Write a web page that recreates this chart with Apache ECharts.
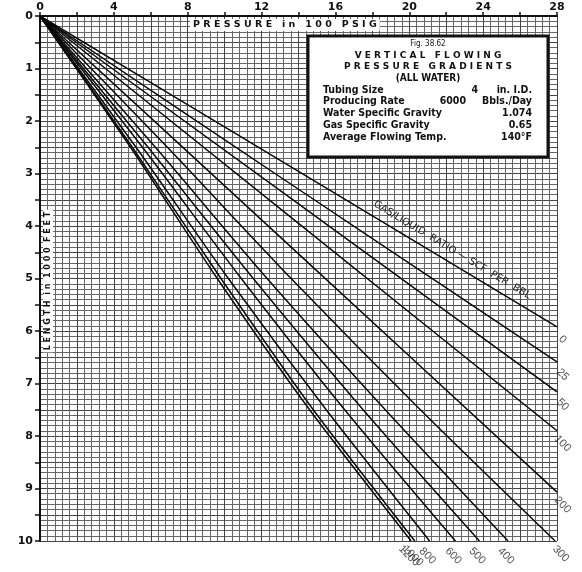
<!DOCTYPE html>
<html><head><meta charset="utf-8">
<script src="https://cdn.jsdelivr.net/npm/echarts@6/dist/echarts.min.js"></script>
<style>html,body{margin:0;padding:0;background:#fff}#c{width:582px;height:572px}</style>
</head><body><div id="c"></div>
<script>
// Pressure (100 psig) vs depth (1000 ft) points
const glrLabels = ['0','25','50','100','200','300','400','500','600','800','1000','1200'];
const glr0    = [[0,0],[14,2.96],[28,5.92]];
const glr25   = [[0,0],[14,3.30],[28,6.59]];
const glr50   = [[0,0],[14,3.58],[28,7.16]];
const glr100  = [[0,0],[14,3.95],[28,7.90]];
const glr200  = [[0,0],[14,4.53],[28,9.07]];
const glr300  = [[0,0],[6.9,2.5],[13.6,5],[20.6,7.5],[27.9,10]];
const glr400  = [[0,0],[6.25,2.5],[12.3,5],[18.7,7.5],[25.35,10]];
const glr500  = [[0,0],[5.85,2.5],[11.55,5],[17.5,7.5],[23.8,10]];
const glr600  = [[0,0],[5.55,2.5],[10.9,5],[16.5,7.5],[22.5,10]];
const glr800  = [[0,0],[5.2,2.5],[10.2,5],[15.5,7.5],[21.1,10]];
const glr1000 = [[0,0],[5.0,2.5],[9.8,5],[14.8,7.5],[20.3,10]];
const glr1200 = [[0,0],[4.9,2.5],[9.6,5],[14.6,7.5],[20.1,10]];
const curves = [glr0,glr25,glr50,glr100,glr200,glr300,glr400,glr500,glr600,glr800,glr1000,glr1200];
const xMax = 28, yMax = 10;

const chart = echarts.init(document.getElementById('c'), null, {renderer:'canvas'});
const lineSeries = curves.map((c,i)=>({
  type:'line', name:glrLabels[i], data:c, symbol:'none', smooth:0.25,
  lineStyle:{color:'#0a0a0a', width:1.5}, silent:true, z:5
}));
const endData = curves.map((c,i)=>{
  const e = c[c.length-1];
  const atRight = e[0] >= 27.8;
  return {value:e, name:glrLabels[i], label:{offset: atRight ? [13,5] : [9,12]}};
});
const F = 'DejaVu Sans';
const FC = 'DejaVu Sans Condensed';
const txt = (x,y,text,font,align,extra)=>Object.assign({type:'text', x:x, y:y, z:20,
  style:{text:text, font:font, fill:'#111', align:align||'left', verticalAlign:'middle'}}, extra||{});
chart.setOption({
  animation:false,
  backgroundColor:'#fff',
  grid:{left:40, right:25, top:16, bottom:31},
  xAxis:{type:'value', position:'top', min:0, max:xMax, interval:2,
    axisLine:{show:true, lineStyle:{color:'#111', width:2}},
    axisTick:{show:true, length:4, lineStyle:{color:'#111', width:1.5}},
    axisLabel:{formatter:v=> (Math.abs(v/4-Math.round(v/4))<1e-6 ? String(v) : ''), fontFamily:F, fontWeight:'bold', fontSize:11, color:'#111', margin:3},
    splitLine:{show:true, lineStyle:{color:'#444', width:1}},
    minorTick:{show:false, splitNumber:5},
    minorSplitLine:{show:true, lineStyle:{color:'#666', width:1}}
  },
  yAxis:{type:'value', inverse:true, min:0, max:yMax, interval:0.5,
    axisLine:{show:true, lineStyle:{color:'#111', width:2}},
    axisTick:{show:true, length:5, lineStyle:{color:'#111', width:1.5}},
    axisLabel:{formatter:v=> (Math.abs(v-Math.round(v))<1e-6 ? String(Math.round(v)) : ''), fontFamily:F, fontWeight:'bold', fontSize:11, color:'#111', margin:7},
    splitLine:{show:true, lineStyle:{color:'#444', width:1}},
    minorTick:{show:false, splitNumber:5},
    minorSplitLine:{show:true, lineStyle:{color:'#666', width:1}}
  },
  series: lineSeries.concat([{
    type:'scatter', data:endData, symbolSize:0, silent:true, z:6,
    label:{show:true, position:'inside', formatter:p=>p.name, rotate:-45,
      fontFamily:'Liberation Sans', fontSize:11, color:'#222'}
  }]),
  graphic:[
    {type:'text', left:190, top:19, z:20, style:{text:'P R E S S U R E   i n   1 0 0   P S I G', font:'bold 9.5px DejaVu Sans', fill:'#111', backgroundColor:'#fff', padding:[1,3]}},
    {type:'text', x:48, y:281, rotation:Math.PI/2, z:20, style:{text:'L E N G T H  i n  1 0 0 0  F E E T', font:'bold 8px DejaVu Sans', fill:'#111', align:'center', verticalAlign:'middle', backgroundColor:'#fff', padding:[1,2]}},
    {type:'text', x:452, y:250, rotation:-0.54, z:20, style:{text:'GAS/LIQUID  RATIO — SCF  PER  BBL', font:'10px DejaVu Sans', fill:'#222', align:'center', verticalAlign:'middle'}},
    {type:'rect', z:19, shape:{x:308, y:36, width:240, height:121}, style:{fill:'#fff', stroke:'#111', lineWidth:3}},
    txt(428,44,'Fig. 38.62','8px '+FC,'center'),
    txt(428,56,'V E R T I C A L   F L O W I N G','bold 9px '+F,'center'),
    txt(428,67,'P R E S S U R E   G R A D I E N T S','bold 9px '+F,'center'),
    txt(428,78,'(ALL WATER)','bold 10px '+FC,'center'),
    txt(323,90,'Tubing Size','bold 10.5px '+FC),
    txt(323,101,'Producing Rate','bold 10.5px '+FC),
    txt(323,113,'Water Specific Gravity','bold 10.5px '+FC),
    txt(323,125,'Gas Specific Gravity','bold 10.5px '+FC),
    txt(323,137,'Average Flowing Temp.','bold 10.5px '+FC),
    txt(478,90,'4','bold 10.5px '+FC,'right'),
    txt(532,90,'in. I.D.','bold 10.5px '+FC,'right'),
    txt(466,101,'6000','bold 10.5px '+FC,'right'),
    txt(532,101,'Bbls./Day','bold 10.5px '+FC,'right'),
    txt(532,113,'1.074','bold 10.5px '+FC,'right'),
    txt(532,125,'0.65','bold 10.5px '+FC,'right'),
    txt(532,137,'140°F','bold 10.5px '+FC,'right')
  ]
});
</script></body></html>
